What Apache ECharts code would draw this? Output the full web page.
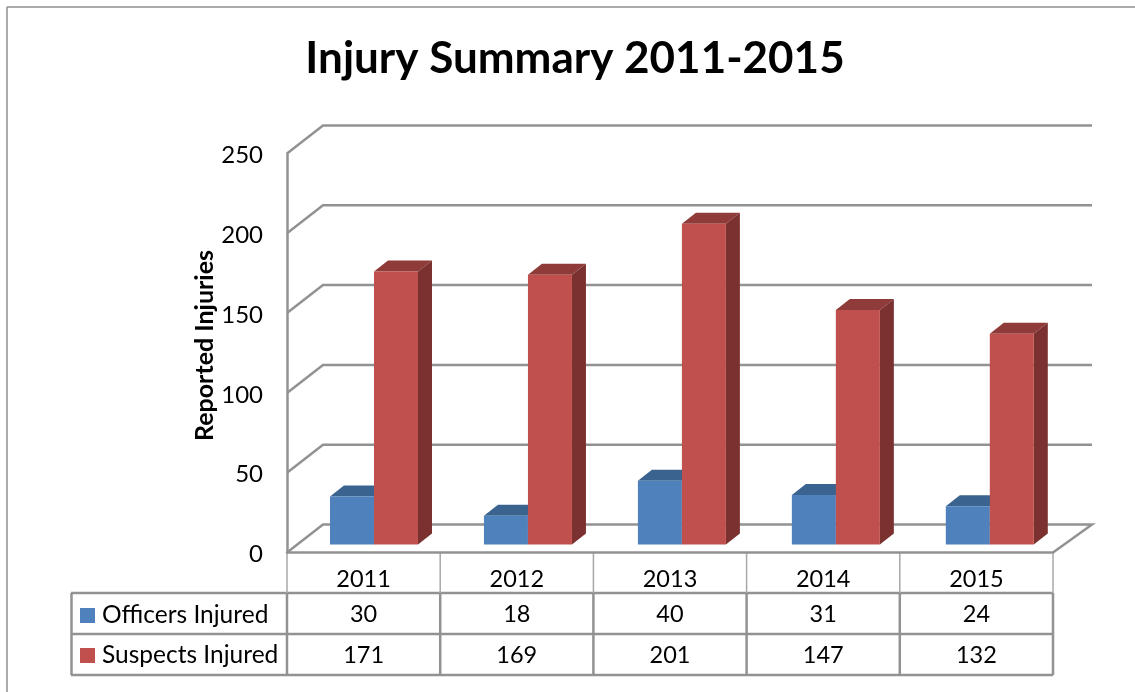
<!DOCTYPE html>
<html>
<head>
<meta charset="utf-8">
<script src="https://cdn.jsdelivr.net/npm/echarts@6/dist/echarts.min.js"></script>
<style>
    html, body { margin: 0; padding: 0; background: #fff; }
    #main { width: 1135px; height: 692px; }
</style>
</head>
<body>
<div id="main"></div>
<script>
var years = ['2011', '2012', '2013', '2014', '2015'];
var officers = [30, 18, 40, 31, 24];
var suspects = [171, 169, 201, 147, 132];
var ticks = [0, 50, 100, 150, 200, 250];

var gridColor = '#929292';
var font = 'Lato, "Open Sans", sans-serif';

var chart = echarts.init(document.getElementById('main'));

// one 3d bar: slot 0 sits left of the band centre, slot 1 right of it
// bars stand mid depth so their spacing is a little wider than the front axis
function bar3d(slot, front, top, side) {
    return function (params, api) {
        var band = api.size([1, 0])[0];
        var w = band * 0.2872;
        var p = api.coord([api.value(0), api.value(1)]);
        var base = api.coord([api.value(0), 0]);
        var x0 = p[0] + 10.4 + api.value(0) * 0.75 - w + slot * w;
        var x1 = x0 + w;
        var y0 = p[1] - 8;
        var y1 = base[1] - 8;
        return {
            type: 'group',
            children: [
                { type: 'polygon', shape: { points: [[x0, y0], [x0 + 14, y0 - 11], [x1 + 14, y0 - 11], [x1, y0]] }, style: { fill: top } },
                { type: 'polygon', shape: { points: [[x1, y0], [x1 + 14, y0 - 11], [x1 + 14, y1 - 11], [x1, y1]] }, style: { fill: side } },
                { type: 'rect', shape: { x: x0, y: y0, width: w, height: y1 - y0 }, style: { fill: front } }
            ]
        };
    };
}

// back wall lines, the depth offset is a fixed 36,-28
function wallLine(params, api) {
    var p = api.coord([0, api.value(0)]);
    var left = p[0] - api.size([1, 0])[0] / 2;
    var pts = [[left, p[1]], [left + 36, p[1] - 28], [1092, p[1] - 28]];
    if (api.value(0) === 0) {
        pts.push([1053, p[1]]);
    }
    return {
        type: 'polyline',
        shape: { points: pts },
        style: { stroke: gridColor, lineWidth: 2.5, fill: null }
    };
}

function tableText(params, api) {
    var x = api.coord([api.value(0), 0])[0];
    var cell = function (v, y) {
        return {
            type: 'text',
            style: { text: String(v), x: x, y: y, textAlign: 'center', textVerticalAlign: 'middle', font: '23.5px ' + font, fill: '#000' }
        };
    };
    return { type: 'group', children: [cell(api.value(1), 614), cell(api.value(2), 655)] };
}

function hLine(x1, x2, y, color, width) {
    return { type: 'line', silent: true, shape: { x1: x1, y1: y, x2: x2, y2: y }, style: { stroke: color, lineWidth: width } };
}
function vLine(x, y1, y2, color, width) {
    return { type: 'line', silent: true, shape: { x1: x, y1: y1, x2: x, y2: y2 }, style: { stroke: color, lineWidth: width } };
}

var tableLines = [
    hLine(7, 1135, 7, '#8f8f8f', 1.5),
    vLine(7, 7, 692, '#8f8f8f', 1.5),
    hLine(71, 1053, 593, gridColor, 2.5),
    hLine(71, 1053, 634, gridColor, 2.5),
    hLine(71, 1053, 675, gridColor, 2.5),
    vLine(71.5, 593, 675, gridColor, 2.5)
];
for (var c = 0; c <= years.length; c++) {
    var cx = 287 + c * 153.2;
    tableLines.push(vLine(cx, 552, 593, '#a8a8a8', 1.5));
    tableLines.push(vLine(cx, 593, 675, gridColor, 2.5));
}

chart.setOption({
    animation: false,
    color: ['#4F81BD', '#C0504D'],
    title: {
        text: 'Injury Summary 2011-2015',
        left: 570,
        top: 32,
        textAlign: 'center',
        textStyle: { fontFamily: font, fontSize: 44, fontWeight: 'bold', color: '#000' }
    },
    legend: {
        orient: 'vertical',
        left: 75,
        top: 598,
        itemWidth: 15,
        itemHeight: 15,
        itemGap: 15,
        icon: 'rect',
        data: ['Officers Injured', 'Suspects Injured'],
        textStyle: { fontFamily: font, fontSize: 24.5, color: '#000', padding: [0, 0, 0, 2] }
    },
    grid: { left: 287, right: 82, top: 153.5, bottom: 139.5 },
    xAxis: {
        type: 'category',
        data: years,
        axisLine: { lineStyle: { color: gridColor, width: 2.5 } },
        axisTick: { show: false },
        axisLabel: { margin: 15, fontFamily: font, fontSize: 23.5, color: '#000' }
    },
    yAxis: {
        type: 'value',
        min: 0,
        max: 250,
        interval: 50,
        name: 'Reported Injuries',
        nameLocation: 'middle',
        nameGap: 70,
        nameRotate: 90,
        nameMoveOverlap: false,
        nameTextStyle: { fontFamily: font, fontSize: 25, fontWeight: 'bold', color: '#000', padding: [0, 0, 0, 15] },
        axisLine: { show: true, lineStyle: { color: gridColor, width: 2.5 } },
        axisTick: { show: false },
        splitLine: { show: false },
        axisLabel: { margin: 24, fontFamily: font, fontSize: 24, color: '#000', verticalAlign: 'top', padding: [-10, 0, 0, 0] }
    },
    graphic: tableLines,
    series: [
        {
            type: 'custom',
            name: 'wall',
            renderItem: wallLine,
            encode: { y: 0 },
            clip: false,
            silent: true,
            data: ticks.map(function (t) { return [t]; })
        },
        {
            type: 'custom',
            name: 'Officers Injured',
            renderItem: bar3d(0, '#4F81BD', '#3A6390', '#34587f'),
            encode: { x: 0, y: 1 },
            clip: false,
            itemStyle: { color: '#4F81BD' },
            data: officers.map(function (v, i) { return [i, v]; })
        },
        {
            type: 'custom',
            name: 'Suspects Injured',
            renderItem: bar3d(1, '#C0504D', '#8F3B39', '#7B3130'),
            encode: { x: 0, y: 1 },
            clip: false,
            itemStyle: { color: '#C0504D' },
            data: suspects.map(function (v, i) { return [i, v]; })
        },
        {
            type: 'custom',
            name: 'table',
            renderItem: tableText,
            encode: { x: 0 },
            clip: false,
            silent: true,
            data: years.map(function (y, i) { return [i, officers[i], suspects[i]]; })
        }
    ]
});
</script>
</body>
</html>
